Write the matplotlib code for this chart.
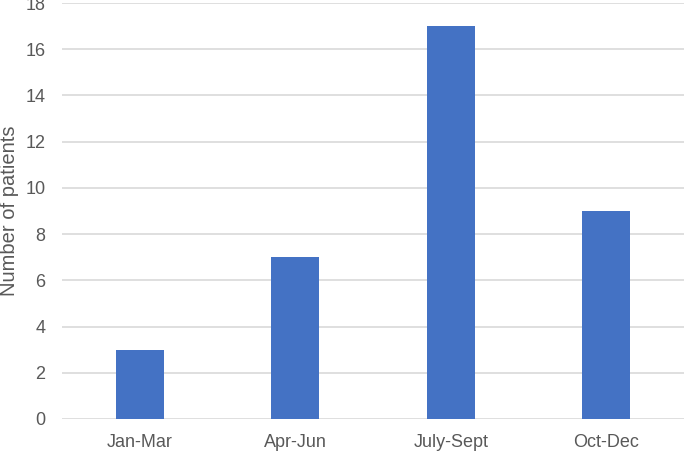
import matplotlib.pyplot as plt

# quarterly patient counts
quarters = ["Jan-Mar", "Apr-Jun", "July-Sept", "Oct-Dec"]
patients = [3, 7, 17, 9]

BAR_BLUE = '#4472C4'
GRID_GREY = '#D9D9D9'
TEXT_GREY = '#595959'

plt.rcParams['font.family'] = ['Liberation Sans', 'DejaVu Sans']

fig = plt.figure(figsize=(6.85, 4.51), dpi=100)
ax = fig.add_axes([0.0905, 0.071, 0.908, 0.9223])

x = range(len(quarters))
ax.bar(x, patients, width=0.31, color=BAR_BLUE, zorder=3)

ax.set_xlim(-0.5, len(quarters) - 0.5)
ax.set_ylim(0, 18)
ax.set_yticks(range(0, 19, 2))
ax.set_xticks(list(x))
ax.set_xticklabels(quarters)

ax.grid(axis='y', color=GRID_GREY, linewidth=1.2, zorder=0)
ax.set_axisbelow(True)
for s in ax.spines.values():
    s.set_visible(False)
ax.tick_params(axis='both', length=0, labelsize=13, colors=TEXT_GREY)
ax.tick_params(axis='x', pad=11)
ax.tick_params(axis='y', pad=12)
ax.set_ylabel('Number of patients', fontsize=14.5, color=TEXT_GREY)
ax.yaxis.set_label_coords(-0.069, 0.5)

fig.savefig('out.png', dpi=100)
